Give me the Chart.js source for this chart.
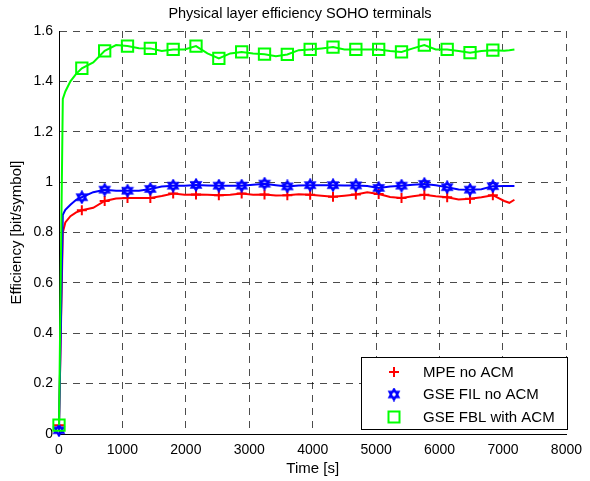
<!DOCTYPE html>
<html>
<head>
<meta charset="utf-8">
<script src="https://cdn.jsdelivr.net/npm/chart.js@4.4.0/dist/chart.umd.min.js"></script>
<style>
  body { margin: 0; background: #fff; }
  #wrap { width: 590px; height: 481px; }
</style>
</head>
<body>
<div id="wrap"><canvas id="effChart" width="590" height="481"></canvas></div>
<script>
// time axis [s]
const times = [0, 60, 100, 180, 270, 360, 540, 720, 900, 1080, 1260, 1440, 1620, 1800, 1980, 2160,
  2340, 2520, 2700, 2880, 3060, 3240, 3420, 3600, 3780, 3960, 4140, 4320, 4500, 4680, 4860,
  5040, 5220, 5400, 5580, 5760, 5940, 6120, 6300, 6480, 6660, 6840, 7020, 7100, 7180];

// efficiency [bit/symbol]
const mpeNoAcm = [0.035, 0.80, 0.84, 0.865, 0.88, 0.888, 0.898, 0.925, 0.935, 0.937, 0.937, 0.937,
  0.945, 0.955, 0.950, 0.951, 0.950, 0.948, 0.950, 0.955, 0.950, 0.951, 0.947, 0.948, 0.952,
  0.950, 0.946, 0.942, 0.946, 0.951, 0.960, 0.953, 0.941, 0.937, 0.944, 0.950, 0.944, 0.940,
  0.931, 0.934, 0.940, 0.948, 0.925, 0.918, 0.930];
const gseFilNoAcm = [0.015, 0.87, 0.89, 0.91, 0.93, 0.94, 0.96, 0.97, 0.966, 0.966, 0.966, 0.973,
  0.983, 0.986, 0.986, 0.989, 0.987, 0.986, 0.986, 0.986, 0.990, 0.994, 0.988, 0.983, 0.987,
  0.988, 0.988, 0.988, 0.987, 0.987, 0.985, 0.977, 0.983, 0.986, 0.990, 0.993, 0.988, 0.980,
  0.971, 0.970, 0.972, 0.984, 0.985, 0.985, 0.985];
const gseFblWithAcm = [0.035, 1.33, 1.36, 1.40, 1.43, 1.452, 1.475, 1.521, 1.544, 1.540, 1.532, 1.531,
  1.521, 1.527, 1.527, 1.540, 1.511, 1.491, 1.511, 1.517, 1.511, 1.508, 1.500, 1.507, 1.524,
  1.527, 1.531, 1.536, 1.527, 1.527, 1.527, 1.527, 1.521, 1.517, 1.531, 1.544, 1.527, 1.527,
  1.521, 1.514, 1.521, 1.524, 1.522, 1.524, 1.527];

const seriesLabels = ['MPE no ACM', 'GSE FIL no ACM', 'GSE FBL with ACM'];
const xTicks = [0, 1000, 2000, 3000, 4000, 5000, 6000, 7000, 8000];
const yTicks = [0, 0.2, 0.4, 0.6, 0.8, 1, 1.2, 1.4, 1.6];
const markerEvery = 360;

const FONT = '"Liberation Sans", Arial, Helvetica, sans-serif';

// six-pointed star marker (matlab 'h')
function hexagram(color) {
  const c = document.createElement('canvas');
  c.width = 14; c.height = 14;
  const g = c.getContext('2d');
  g.strokeStyle = color;
  g.lineWidth = 2;
  [-90, 90].forEach(start => {
    g.beginPath();
    for (let k = 0; k < 3; k++) {
      const a = (start + k * 120) * Math.PI / 180;
      const px = 7 + 5.4 * Math.cos(a), py = 7 + 5.4 * Math.sin(a);
      k === 0 ? g.moveTo(px, py) : g.lineTo(px, py);
    }
    g.closePath();
    g.stroke();
  });
  return c;
}
const starMarker = hexagram('#0000ff');

function toPoints(vals) {
  return times.map((t, i) => ({ x: t, y: vals[i] }));
}
const markerRadius = r => ctx => (times[ctx.dataIndex] % markerEvery === 0 ? r : 0);

const titlePlugin = {
  id: 'matlabTitle',
  afterDraw(chart) {
    const ctx = chart.ctx;
    ctx.save();
    ctx.font = '14.5px ' + FONT;
    ctx.fillStyle = '#000';
    ctx.textAlign = 'center';
    ctx.textBaseline = 'middle';
    ctx.fillText('Physical layer efficiency SOHO terminals', 300, 14);
    ctx.restore();
  }
};

const legendPlugin = {
  id: 'boxLegend',
  afterDraw(chart) {
    const ctx = chart.ctx;
    const x0 = 361.5, y0 = 357.5, w = 206, h = 72;
    ctx.save();
    ctx.fillStyle = '#fff';
    ctx.fillRect(x0, y0, w, h);
    ctx.strokeStyle = '#000';
    ctx.lineWidth = 1;
    ctx.strokeRect(x0, y0, w, h);
    ctx.font = '15px ' + FONT;
    ctx.textBaseline = 'middle';
    ctx.textAlign = 'left';
    const rows = [372, 394.5, 417];
    const mx = 394;
    chart.data.datasets.forEach((ds, i) => {
      const y = rows[i];
      ctx.lineWidth = 2;
      ctx.strokeStyle = ds.borderColor;
      if (ds.pointStyle === 'cross') {
        ctx.beginPath();
        ctx.moveTo(mx - 5, y); ctx.lineTo(mx + 5, y);
        ctx.moveTo(mx, y - 5); ctx.lineTo(mx, y + 5);
        ctx.stroke();
      } else if (ds.pointStyle === 'rect') {
        ctx.strokeRect(mx - 5.5, y - 5.5, 11, 11);
      } else {
        ctx.drawImage(ds.pointStyle, mx - 7, y - 7);
      }
      ctx.fillStyle = '#000';
      ctx.fillText(ds.label, 423, y + 0.5);
    });
    ctx.restore();
  }
};

const chart = new Chart(document.getElementById('effChart').getContext('2d'), {
  type: 'line',
  data: {
    datasets: [
      {
        label: seriesLabels[0],
        data: toPoints(mpeNoAcm),
        borderColor: '#ff0000',
        backgroundColor: 'rgba(0,0,0,0)',
        borderWidth: 2,
        pointStyle: 'cross',
        pointRadius: markerRadius(5),
        pointBorderWidth: 2,
        pointBorderColor: '#ff0000',
        order: 3
      },
      {
        label: seriesLabels[1],
        data: toPoints(gseFilNoAcm),
        borderColor: '#0000ff',
        backgroundColor: 'rgba(0,0,0,0)',
        borderWidth: 2,
        pointStyle: starMarker,
        pointRadius: markerRadius(6),
        order: 2
      },
      {
        label: seriesLabels[2],
        data: toPoints(gseFblWithAcm),
        borderColor: '#00ff00',
        backgroundColor: 'rgba(0,0,0,0)',
        borderWidth: 2,
        pointStyle: 'rect',
        pointRadius: markerRadius(8),
        pointBorderWidth: 2,
        pointBorderColor: '#00ff00',
        pointBackgroundColor: 'rgba(0,0,0,0)',
        order: 1
      }
    ]
  },
  options: {
    responsive: false,
    animation: false,
    events: [],
    clip: false,
    elements: { line: { tension: 0 } },
    layout: { padding: { top: 31, right: 18, left: 0, bottom: 0 } },
    plugins: {
      legend: { display: false },
      title: { display: false },
      tooltip: { enabled: false }
    },
    scales: {
      x: {
        type: 'linear',
        min: 0,
        max: 8000,
        afterBuildTicks: scale => { scale.ticks = xTicks.map(v => ({ value: v })); },
        afterFit: scale => { scale.height = 47; },
        grid: { color: 'rgba(0,0,0,0.7)', lineWidth: 1, drawTicks: false },
        border: { display: true, color: '#000', width: 1, dash: [7, 6] },
        ticks: {
          color: '#000',
          padding: 8,
          maxRotation: 0,
          font: { family: FONT, size: 14 },
          callback: v => String(v)
        },
        title: {
          display: true,
          text: 'Time [s]',
          color: '#000',
          font: { family: FONT, size: 15 },
          padding: { top: 0, bottom: 3 }
        }
      },
      y: {
        type: 'linear',
        min: 0,
        max: 1.6,
        afterBuildTicks: scale => { scale.ticks = yTicks.map(v => ({ value: v })); },
        afterFit: scale => { scale.width = 59; },
        grid: { color: 'rgba(0,0,0,0.7)', lineWidth: 1, drawTicks: false },
        border: { display: true, color: '#000', width: 1, dash: [7, 6] },
        ticks: {
          color: '#000',
          padding: 6,
          font: { family: FONT, size: 14 },
          callback: v => String(+v.toFixed(1))
        },
        title: {
          display: true,
          text: 'Efficiency [bit/symbol]',
          color: '#000',
          font: { family: FONT, size: 15 },
          padding: { top: 8, bottom: 0 }
        }
      }
    }
  },
  plugins: [titlePlugin, legendPlugin]
});
</script>
</body>
</html>
